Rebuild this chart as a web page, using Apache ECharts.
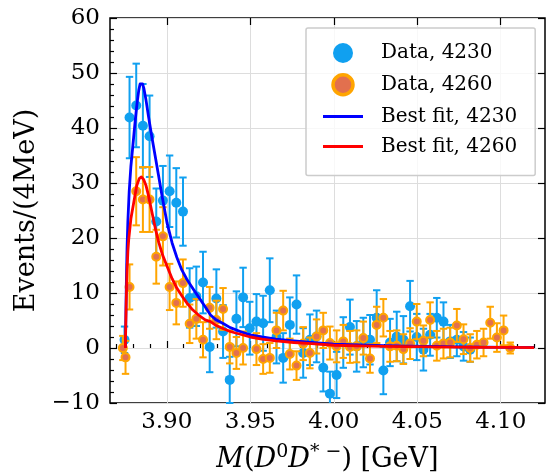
<!DOCTYPE html>
<html><head><meta charset="utf-8">
<script src="https://cdn.jsdelivr.net/npm/echarts@6/dist/echarts.min.js"></script>
<style>html,body{margin:0;padding:0;background:#fff}#c{width:546px;height:475px}</style>
</head><body><div id="c"></div>
<script>
// ---- tick labels ----
const xMajorTicks = [3.90, 3.95, 4.00, 4.05, 4.10];
const xTickLabels = ['3.90', '3.95', '4.00', '4.05', '4.10'];
const xMinorTicks = [3.87,3.88,3.89,3.91,3.92,3.93,3.94,3.96,3.97,3.98,3.99,4.01,4.02,4.03,4.04,4.06,4.07,4.08,4.09,4.11,4.12];
const yTicks = [-10, 0, 10, 20, 30, 40, 50, 60];

// ---- Data, 4230 ----
const x4230 = [3.8747,3.8777,3.8817,3.8857,3.8897,3.8937,3.8977,3.9017,3.9057,3.9097,3.9137,3.9177,3.9217,3.9257,3.9297,3.9337,3.9377,3.9417,3.9457,3.9497,3.9537,3.9577,3.9617,3.9657,3.9697,3.9737,3.9777,3.9817,3.9857,3.9897,3.9937,3.9977,4.0017,4.0057,4.0097,4.0137,4.0177,4.0217,4.0257,4.0297,4.0337,4.0377,4.0417,4.0457,4.0497,4.0537,4.0577,4.0617,4.0657,4.0697,4.0737,4.0777,4.0817];
const y4230 = [1.5,41.9,44.1,40.4,38.5,23.0,26.8,28.5,26.4,24.8,9.1,9.4,11.9,0.2,9.0,3.0,-5.8,5.3,9.2,3.6,4.8,4.5,10.5,2.0,-1.8,4.2,7.9,-0.9,1.5,2.1,-3.6,-8.3,-4.9,1.0,3.8,0.3,1.0,1.5,5.5,-4.1,1.0,2.1,1.5,7.6,2.0,-0.3,2.4,5.5,4.8,1.2,1.5,0.3,-0.3];
const e4230 = [2.4,7.4,7.6,7.6,7.4,6.0,6.3,6.5,6.3,6.2,5.4,5.4,5.6,4.6,5.3,4.8,4.2,5.0,5.4,4.8,5.0,5.0,5.8,4.8,4.5,5.0,5.3,4.5,4.6,4.7,4.3,4.0,4.2,4.6,5.0,4.6,4.5,4.5,5.0,4.3,4.3,4.5,4.3,4.6,4.2,3.8,3.8,3.6,3.5,3.0,3.0,2.6,2.2];

// ---- Data, 4260 ----
const x4260 = [3.8737,3.8753,3.8777,3.8817,3.8857,3.8897,3.8937,3.8977,3.9017,3.9057,3.9097,3.9137,3.9177,3.9217,3.9257,3.9297,3.9337,3.9377,3.9417,3.9457,3.9537,3.9577,3.9617,3.9657,3.9697,3.9737,3.9777,3.9817,3.9857,3.9897,3.9937,3.9977,4.0017,4.0057,4.0097,4.0137,4.0177,4.0217,4.0257,4.0297,4.0337,4.0377,4.0417,4.0457,4.0497,4.0537,4.0577,4.0617,4.0657,4.0697,4.0737,4.0777,4.0817,4.0857,4.0897,4.0937,4.0977,4.1017,4.1057];
const y4260 = [0.0,-1.7,11.1,28.5,27.0,27.0,16.6,20.3,11.1,8.2,11.8,4.4,5.3,1.5,7.3,5.1,7.1,0.2,-0.9,0.0,-0.2,-2.0,-1.8,3.2,6.8,-1.1,-3.2,0.8,-0.9,2.1,3.2,0.9,0.3,1.2,0.2,0.3,1.8,-1.9,4.2,5.5,0.3,0.4,-0.2,0.8,4.8,1.3,5.1,0.4,0.8,1.0,4.1,1.6,0.0,0.6,1.0,4.6,1.9,3.2,0.0];
const e4260 = [2.2,3.0,4.1,6.2,5.9,5.9,4.9,5.3,4.2,3.9,4.3,3.5,3.6,3.2,3.8,3.5,3.8,3.0,2.9,3.0,2.9,2.7,2.7,3.2,3.6,2.8,2.6,3.0,2.8,3.1,3.2,3.0,2.9,3.0,2.9,2.9,3.0,2.6,3.3,3.4,2.8,2.8,2.7,2.8,3.2,2.8,3.2,2.7,2.7,2.7,3.0,2.7,2.5,2.5,2.5,2.9,2.6,2.7,1.0];

// ---- Best fit curves ----
const fitX4230 = [3.8752,3.8755,3.8758,3.8762,3.8767,3.8775,3.8785,3.8796,3.8810,3.8822,3.8832,3.8840,3.8847,3.8855,3.8863,3.8875,3.8890,3.8910,3.8930,3.8950,3.8972,3.9002,3.9032,3.9060,3.9090,3.9120,3.9152,3.9190,3.9230,3.9262,3.9292,3.9340,3.9380,3.9440,3.9500,3.9570,3.9653,3.9760,3.9867,4.0000,4.0150,4.0300,4.0450,4.0600,4.0750,4.0900,4.1050,4.1200];
const fitY4230 = [0,6,12,18,23,28.5,33,36.5,41,44.5,46.8,48.0,48.3,48.0,47.2,45.2,42.2,38.5,35.0,31.5,27.6,22.7,19.1,16.5,14.2,12.5,11.0,9.3,7.5,6.0,5.2,4.4,3.7,3.0,2.4,2.0,1.6,1.3,1.0,0.7,0.55,0.45,0.35,0.28,0.22,0.17,0.13,0.1];
const fitX4260 = [3.8752,3.8755,3.8758,3.8762,3.8767,3.8772,3.8785,3.8802,3.8820,3.8835,3.8848,3.8862,3.8875,3.8890,3.8905,3.8920,3.8935,3.8952,3.8975,3.9000,3.9032,3.9060,3.9092,3.9120,3.9150,3.9190,3.9230,3.9262,3.9290,3.9340,3.9380,3.9440,3.9500,3.9570,3.9653,3.9760,3.9867,4.0000,4.0150,4.0300,4.0450,4.0600,4.0750,4.0900,4.1050,4.1200];
const fitY4260 = [0,5,9.5,14,17.5,19.7,23.5,26.4,29.5,30.8,31.1,30.6,29.6,27.8,25.6,23.4,21.3,19.2,16.9,15.0,12.6,10.9,9.4,8.2,7.1,6.0,5.1,4.8,4.2,3.5,3.0,2.5,2.0,1.6,1.3,1.0,0.8,0.5,0.4,0.3,0.25,0.2,0.16,0.12,0.1,0.08];

const BLUE = '#10A0F0', ORANGE = '#FFA500', ORANGE_FACE = '#E2704E';
const FONT = 'DejaVu Serif';

function zip2(a, b) { return a.map((v, i) => [v, b[i]]); }
function errData(x, y, e) { return x.map((v, i) => [v, y[i] - e[i], y[i] + e[i]]); }

function errRender(color) {
  return function (params, api) {
    const cs = params.coordSys;
    const x = api.value(0), lo = api.value(1), hi = api.value(2);
    const p1 = api.coord([x, lo]), p2 = api.coord([x, hi]);
    const top = cs.y, bot = cs.y + cs.height;
    const yl = Math.min(p1[1], bot), yh = Math.max(p2[1], top);
    const w = 3.7, st = { stroke: color, lineWidth: 2 };
    const ch = [{ type: 'line', shape: { x1: p1[0], y1: yl, x2: p1[0], y2: yh }, style: st }];
    if (p1[1] <= bot) ch.push({ type: 'line', shape: { x1: p1[0] - w, y1: p1[1], x2: p1[0] + w, y2: p1[1] }, style: st });
    if (p2[1] >= top) ch.push({ type: 'line', shape: { x1: p2[0] - w, y1: p2[1], x2: p2[0] + w, y2: p2[1] }, style: st });
    return { type: 'group', children: ch };
  };
}

const chart = echarts.init(document.getElementById('c'), null, { renderer: 'canvas' });
const xMin = 3.866, xMax = 4.1265;
const tickLine = { color: '#000', width: 1.2 };
const LINE_ICON = 'path://M0,0 L40,0 L40,3 L0,3 Z';

chart.setOption({
  animation: false,
  backgroundColor: '#fff',
  grid: { left: 110, right: 1, top: 18, bottom: 72, show: true, borderColor: '#000', borderWidth: 1.5,
    backgroundColor: 'transparent', containLabel: false, outerBoundsMode: 'none' },
  xAxis: [
    { type: 'value', min: xMin, max: xMax, position: 'bottom',
      axisLine: { show: false },
      axisTick: { show: true, inside: true, length: 7, customValues: xMajorTicks, lineStyle: tickLine },
      axisLabel: { customValues: xMajorTicks, margin: 8, color: '#000', fontFamily: FONT, fontSize: 23,
        formatter: v => { const i = xMajorTicks.findIndex(t => Math.abs(t - v) < 1e-6); return i >= 0 ? xTickLabels[i] : ''; } },
      splitLine: { show: true, customValues: xMajorTicks, lineStyle: { color: '#dddddd', width: 1 } },
      name: '{i|M}{n|(}{i|D}{s|0}{i|D}{s|* \u2212}{n|) [GeV]}',
      nameLocation: 'middle', nameGap: 40,
      nameTextStyle: { rich: {
        i: { fontFamily: FONT, fontStyle: 'italic', fontSize: 27, color: '#000', lineHeight: 34 },
        n: { fontFamily: FONT, fontSize: 27, color: '#000', lineHeight: 34 },
        s: { fontFamily: FONT, fontSize: 19, color: '#000', verticalAlign: 'top', lineHeight: 34 }
      } }
    },
    { type: 'value', min: xMin, max: xMax, position: 'bottom',
      axisLine: { show: false },
      axisTick: { show: true, inside: true, length: 4, customValues: xMinorTicks, lineStyle: tickLine },
      axisLabel: { show: false }, splitLine: { show: false } },
    { type: 'value', min: xMin, max: xMax, position: 'top',
      axisLine: { show: false },
      axisTick: { show: true, inside: true, length: 7, customValues: xMajorTicks, lineStyle: tickLine },
      axisLabel: { show: false }, splitLine: { show: false } }
  ],
  yAxis: [
    { type: 'value', min: yTicks[0], max: yTicks[yTicks.length - 1], interval: 10, position: 'left',
      axisLine: { show: false },
      axisTick: { show: true, inside: true, length: 7, lineStyle: tickLine },
      minorTick: { show: true, splitNumber: 5, length: 4, lineStyle: tickLine },
      axisLabel: { margin: 10, color: '#000', fontFamily: FONT, fontSize: 23,
        formatter: v => (v < 0 ? '\u2212' + Math.abs(v) : String(v)) },
      splitLine: { show: true, lineStyle: { color: '#dddddd', width: 1 } },
      name: 'Events/(4MeV)', nameLocation: 'middle', nameGap: 70,
      nameTextStyle: { fontFamily: FONT, fontSize: 27, color: '#000' }
    },
    { type: 'value', min: yTicks[0], max: yTicks[yTicks.length - 1], interval: 10, position: 'right',
      axisLine: { show: false },
      axisTick: { show: true, inside: true, length: 7, lineStyle: tickLine },
      axisLabel: { show: false }, splitLine: { show: false } }
  ],
  legend: {
    orient: 'vertical', left: 306, top: 28,
    padding: [15, 18, 19, 17], itemGap: 10, itemWidth: 40, itemHeight: 20,
    backgroundColor: 'rgba(255,255,255,0.8)', borderColor: '#cccccc', borderWidth: 1.5, borderRadius: 2,
    textStyle: { fontFamily: FONT, fontSize: 20, color: '#000', padding: [0, 0, 0, 13], lineHeight: 20 },
    data: [
      { name: 'Data, 4230', icon: 'circle' },
      { name: 'Data, 4260', icon: 'circle', itemStyle: { borderWidth: 3.5 } },
      { name: 'Best fit, 4230', icon: LINE_ICON },
      { name: 'Best fit, 4260', icon: LINE_ICON }
    ]
  },
  series: [
    { type: 'custom', name: 'err4230', xAxisIndex: 0, yAxisIndex: 0, renderItem: errRender(BLUE),
      data: errData(x4230, y4230, e4230), z: 2, silent: true },
    { type: 'scatter', name: 'Data, 4230', xAxisIndex: 0, yAxisIndex: 0, data: zip2(x4230, y4230),
      symbol: 'circle', symbolSize: 10, itemStyle: { color: BLUE, opacity: 1 }, z: 3 },
    { type: 'custom', name: 'err4260', xAxisIndex: 0, yAxisIndex: 0, renderItem: errRender(ORANGE),
      data: errData(x4260, y4260, e4260), z: 4, silent: true },
    { type: 'scatter', name: 'Data, 4260', xAxisIndex: 0, yAxisIndex: 0, data: zip2(x4260, y4260),
      symbol: 'circle', symbolSize: 8, itemStyle: { color: ORANGE_FACE, borderColor: ORANGE, borderWidth: 2, opacity: 1 }, z: 5 },
    { type: 'line', name: 'Best fit, 4230', xAxisIndex: 0, yAxisIndex: 0, data: zip2(fitX4230, fitY4230),
      symbol: 'none', showSymbol: false, smooth: false, lineStyle: { color: '#0000FF', width: 2.8, join: 'round' }, itemStyle: { color: '#0000FF' }, z: 6 },
    { type: 'line', name: 'Best fit, 4260', xAxisIndex: 0, yAxisIndex: 0, data: zip2(fitX4260, fitY4260),
      symbol: 'none', showSymbol: false, smooth: false, lineStyle: { color: '#FF0000', width: 2.8, join: 'round' }, itemStyle: { color: '#FF0000' }, z: 7 }
  ]
});
</script></body></html>
